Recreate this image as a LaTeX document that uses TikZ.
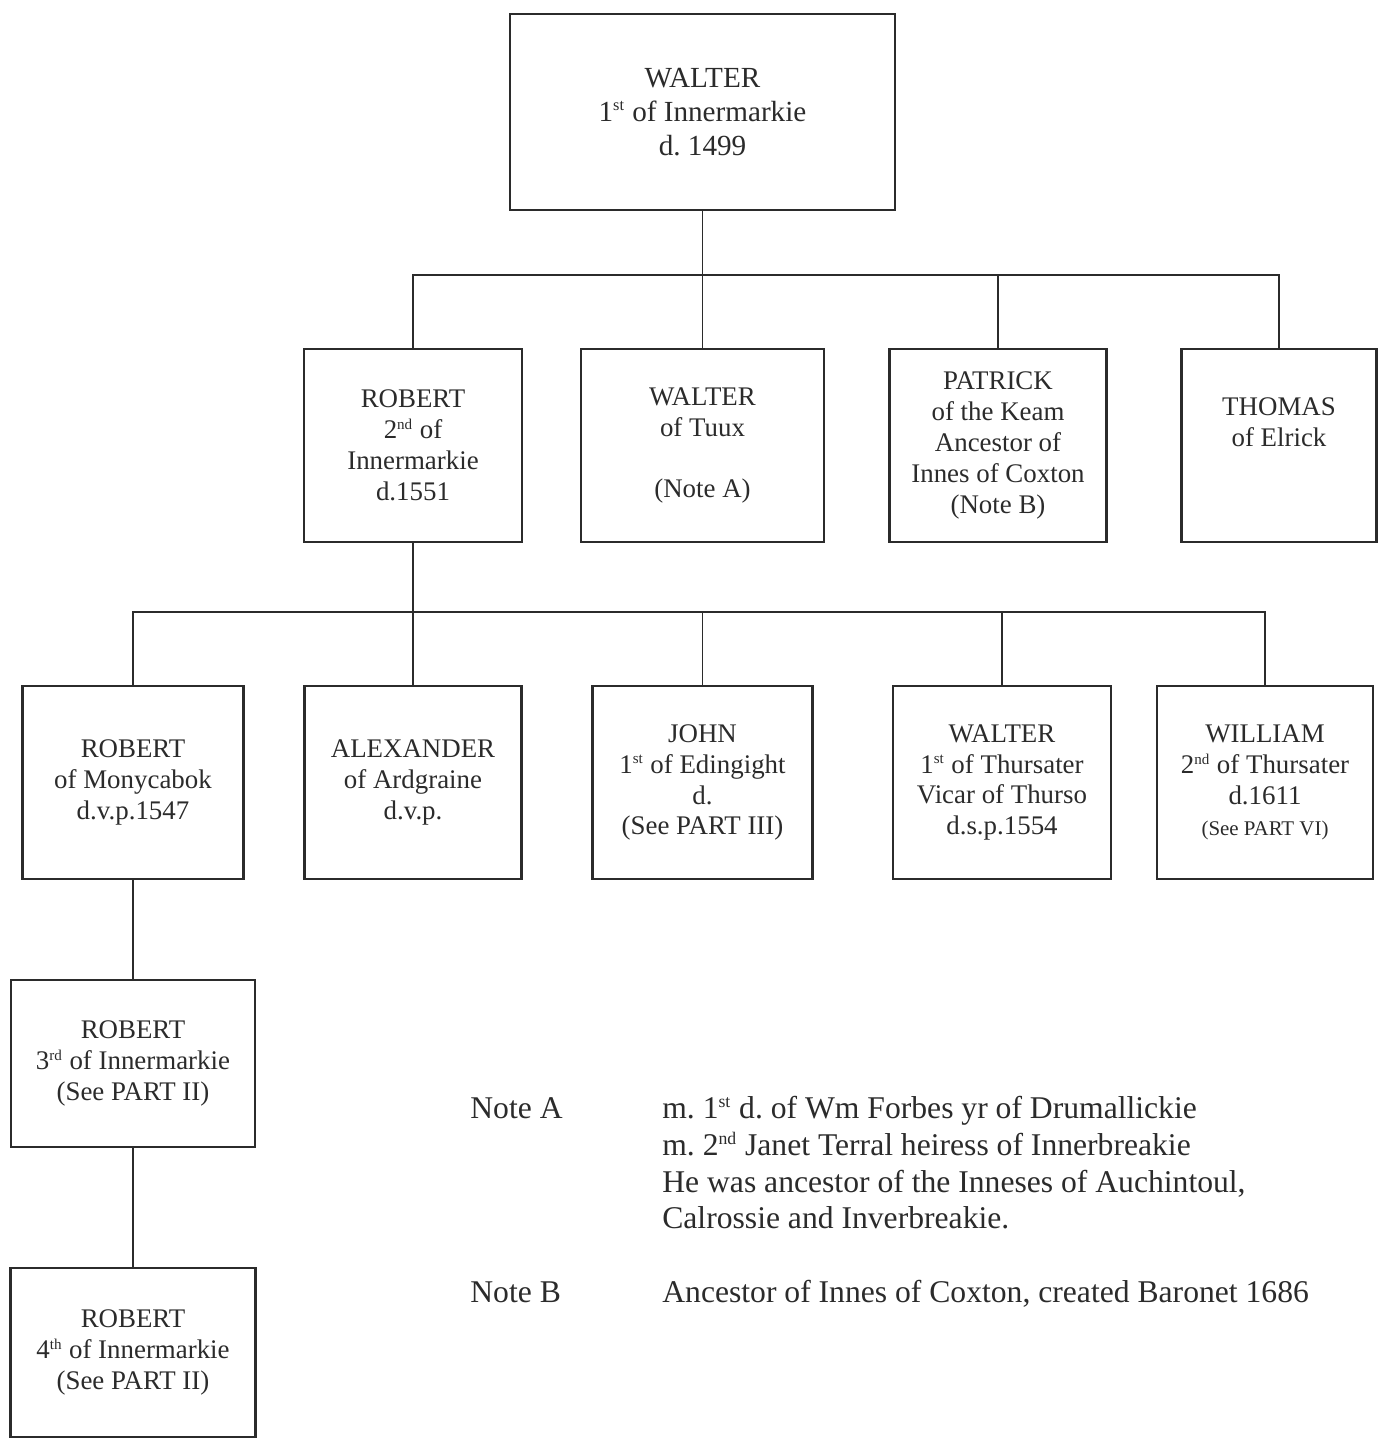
\documentclass[tikz,border=0pt]{standalone}
\usepackage{fontspec}
\setmainfont{Liberation Serif}
\frenchspacing
\usepackage{xcolor}
\definecolor{Ink}{HTML}{2B2B2B}
\usepackage{tikz}
\usetikzlibrary{positioning}
\newcommand{\ord}[1]{\textsuperscript{\scalebox{0.8}{#1}}}

\begin{document}
\begin{tikzpicture}[every node/.style={font=\fontsize{15.3}{17.6}\selectfont, text=Ink}]
\tikzset{box/.style={draw=Ink, line width=1.4pt, minimum width=4.36cm, minimum height=3.86cm, align=center, inner sep=0pt}}
\tikzset{line/.style={draw=Ink, line width=1.1pt}}
\useasboundingbox (0,0) rectangle (27.66,-28.78);
% first generation
\node[box, minimum width=7.7cm, minimum height=3.92cm, font=\fontsize{16.6}{19.3}\selectfont] (walter) at (14.05,-2.24) {WALTER\\1\ord{st} of Innermarkie\\d. 1499};
% sons
\node[box] (rob2) at (8.26,-8.91) {ROBERT\\2\ord{nd} of\\Innermarkie\\d.1551};
\node[box, minimum width=4.86cm] (tuux) at (14.05,-8.91) {WALTER\\of Tuux\\[17.6pt](Note A)};
\node[box, minimum width=4.34cm] (patrick) at (19.96,-8.91) {PATRICK\\of the Keam\\Ancestor of\\Innes of Coxton\\(Note B)};
\node[box, minimum width=3.9cm] (thomas) at (25.58,-8.91) {THOMAS\\of Elrick\\[0.3cm]\mbox{}};
% grandsons
\node[box, minimum width=4.42cm] (mony) at (2.66,-15.65) {ROBERT\\of Monycabok\\d.v.p.1547};
\node[box, minimum width=4.34cm] (alex) at (8.26,-15.65) {ALEXANDER\\of Ardgraine\\d.v.p.};
\node[box, minimum width=4.4cm] (john) at (14.05,-15.65) {JOHN\\1\ord{st} of Edingight\\d.\\(See PART III)};
\node[box] (walt) at (20.04,-15.65) {WALTER\\1\ord{st} of Thursater\\Vicar of Thurso\\d.s.p.1554};
\node[box, minimum width=4.32cm] (will) at (25.3,-15.65) {WILLIAM\\2\ord{nd} of Thursater\\d.1611\\{\fontsize{11.9}{14}\selectfont (See PART VI)}};
% line of Innermarkie
\node[box, minimum width=4.88cm, minimum height=3.34cm] (rob3) at (2.66,-21.27) {ROBERT\\3\ord{rd} of Innermarkie\\(See PART II)};
\node[box, minimum width=4.9cm, minimum height=3.38cm] (rob4) at (2.66,-27.05) {ROBERT\\4\ord{th} of Innermarkie\\(See PART II)};
% notes
\node[anchor=north west, inner sep=0pt, font=\fontsize{18}{21}\selectfont] (notes) at (9.4,-21.84) {%
\begin{tabular}{@{}p{3.84cm}@{}l@{}}
Note A & m. 1\ord{st} d. of Wm Forbes yr of Drumallickie\\
 & m. 2\ord{nd} Janet Terral heiress of Innerbreakie\\
 & He was ancestor of the Inneses of Auchintoul,\\
 & Calrossie and Inverbreakie.\\[21pt]
Note B & Ancestor of Innes of Coxton, created Baronet 1686
\end{tabular}};
\coordinate (bar1) at (0,-5.5);
\coordinate (bar2) at (0,-12.24);
\draw[line] (walter.south) -- (walter.south |- bar1);
\draw[line] (rob2.north) |- (thomas.north |- bar1) -- (thomas.north);
\draw[line] (tuux.north) -- (tuux.north |- bar1);
\draw[line] (patrick.north) -- (patrick.north |- bar1);
\draw[line] (rob2.south) -- (alex.north);
\draw[line] (mony.north) |- (will.north |- bar2) -- (will.north);
\draw[line] (john.north) -- (john.north |- bar2);
\draw[line] (walt.north) -- (walt.north |- bar2);
\draw[line] (mony.south) -- (rob3.north);
\draw[line] (rob3.south) -- (rob4.north);
\end{tikzpicture}
\end{document}
